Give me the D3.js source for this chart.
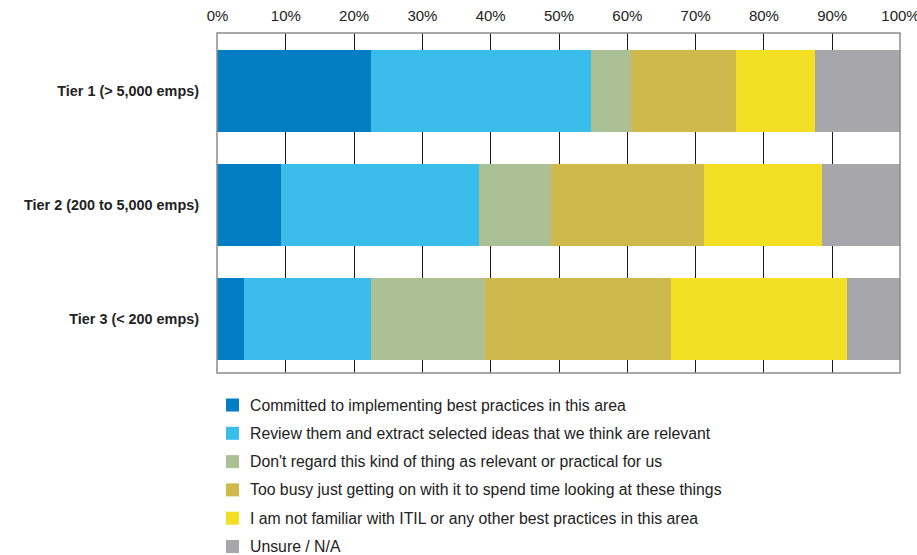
<!DOCTYPE html>
<html>
<head>
<meta charset="utf-8">
<script src="https://cdn.jsdelivr.net/npm/d3@7/dist/d3.min.js"></script>
<style>
  html, body { margin: 0; padding: 0; background: #fff; }
  svg { display: block; font-family: "Liberation Sans", Arial, sans-serif; }
</style>
</head>
<body>
<svg id="chart" width="917" height="555"></svg>
<script>
// Survey responses by organisation size (percent of respondents)
const tiers = ["Tier 1 (> 5,000 emps)", "Tier 2 (200 to 5,000 emps)", "Tier 3 (< 200 emps)"];
const responses = [
  "Committed to implementing best practices in this area",
  "Review them and extract selected ideas that we think are relevant",
  "Don't regard this kind of thing as relevant or practical for us",
  "Too busy just getting on with it to spend time looking at these things",
  "I am not familiar with ITIL or any other best practices in this area",
  "Unsure / N/A"
];
const committed   = [22.5, 9.4, 3.9];
const review      = [32.3, 28.9, 18.7];
const notRelevant = [5.8, 10.6, 16.6];
const tooBusy     = [15.4, 22.4, 27.2];
const notFamiliar = [11.5, 17.3, 25.8];
const unsure      = [12.5, 11.4, 7.8];
const tickValues  = [0, 10, 20, 30, 40, 50, 60, 70, 80, 90, 100];
const colors = ["#007dc3", "#3bbdec", "#abc094", "#cfb94d", "#f3e024", "#a7a7ab"];

(function draw() {
  const series = [committed, review, notRelevant, tooBusy, notFamiliar, unsure];
  const rows = tiers.map((t, i) => {
    const r = { tier: t };
    responses.forEach((k, j) => { r[k] = series[j][i]; });
    return r;
  });

  const svg = d3.select("#chart");
  const plotLeft = 217, plotRight = 900, plotTop = 33, plotBottom = 373;

  const x = d3.scaleLinear().domain([0, 100]).range([plotLeft, plotRight]);
  const y = d3.scaleBand().domain(tiers).range([plotTop + 4, plotBottom])
    .paddingInner(0.281).paddingOuter(0.114);

  const stacked = d3.stack().keys(responses)(rows);

  // vertical gridlines
  svg.append("g")
    .selectAll("line")
    .data(tickValues.slice(1, -1))
    .join("line")
    .attr("x1", d => Math.round(x(d)) + 0.5).attr("x2", d => Math.round(x(d)) + 0.5)
    .attr("y1", plotTop).attr("y2", plotBottom)
    .attr("stroke", "#1a1a1a").attr("stroke-width", 1);

  // stacked bars
  svg.append("g")
    .selectAll("g")
    .data(stacked)
    .join("g")
    .attr("fill", (d, i) => colors[i])
    .selectAll("rect")
    .data(d => d)
    .join("rect")
    .attr("x", d => x(d[0]))
    .attr("width", d => x(d[1]) - x(d[0]))
    .attr("y", d => y(d.data.tier))
    .attr("height", y.bandwidth())
    .attr("shape-rendering", "crispEdges");

  // frame border
  svg.append("rect")
    .attr("x", plotLeft).attr("y", plotTop)
    .attr("width", plotRight - plotLeft).attr("height", plotBottom - plotTop)
    .attr("fill", "none").attr("stroke", "#8c8c8c").attr("stroke-width", 1.5);

  // top percentage axis
  const xAxis = d3.axisTop(x).tickValues(tickValues).tickFormat(d => d + "%").tickSize(0).tickPadding(0);
  const gx = svg.append("g").attr("transform", "translate(0,21)").call(xAxis);
  gx.select(".domain").remove();
  gx.selectAll("text")
    .attr("font-size", 15).attr("fill", "#222")
    .attr("font-family", "Liberation Sans, Arial, sans-serif");

  // category labels
  const yAxis = d3.axisLeft(y).tickSize(0).tickPadding(0);
  const gy = svg.append("g").attr("transform", "translate(199,0)").call(yAxis);
  gy.select(".domain").remove();
  gy.selectAll("text")
    .attr("font-size", 14.4).attr("font-weight", "bold").attr("fill", "#222")
    .attr("font-family", "Liberation Sans, Arial, sans-serif");

  // legend
  const legend = svg.append("g")
    .selectAll("g")
    .data(responses)
    .join("g")
    .attr("transform", (d, i) => `translate(226,${405 + i * 28.3})`);
  legend.append("rect")
    .attr("x", 0).attr("y", -6.5).attr("width", 13).attr("height", 13)
    .attr("fill", (d, i) => colors[i]);
  legend.append("text")
    .attr("x", 24).attr("y", 0).attr("dy", "0.35em")
    .attr("font-size", 15.8).attr("fill", "#222")
    .text(d => d);
})();
</script>
</body>
</html>
